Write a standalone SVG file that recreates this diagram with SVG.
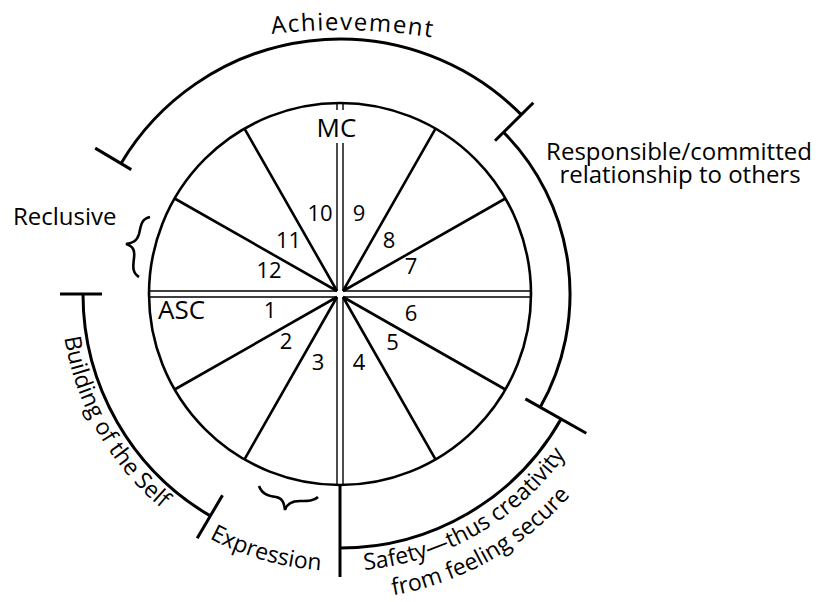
<svg xmlns="http://www.w3.org/2000/svg" width="827" height="602" viewBox="0 0 827 602">
<style>
.thick{fill:none;stroke:#000;stroke-width:2.6}
.arc{fill:none;stroke:#000;stroke-width:3}
.thin{fill:none;stroke:#000;stroke-width:1.4}
text{font-family:"Open Sans","Liberation Sans",sans-serif;fill:#000}
.num{font-size:22px;text-anchor:middle}
.lbl{font-size:24px}
.curv{font-size:23px}
.axis{font-size:26px}
</style>
<defs>
<path id="pAch" d="M 200,47.5 A 570 570 0 0 1 480,47.5"/>
<path id="pBuild" d="M 61.2,303.7 A 279 279 0 0 0 244.6,556.2"/>
<path id="pExpr" d="M 181.1,520.9 A 277 277 0 0 0 388.1,566.8"/>
<path id="pSafe1" d="M 330.3,570.8 A 277 277 0 0 0 600.3,388.7"/>
<path id="pSafe2" d="M 329.3,599.8 A 306 306 0 0 0 627.5,398.7"/>
</defs>
<rect width="827" height="602" fill="#fff"/>

<g id="wheel">
<circle class="thick" cx="340" cy="294" r="191"/>
<g id="axes" class="thin">
<path d="M 149,291 H 337 M 149,297 H 337 M 343,291 H 531 M 343,297 H 531"/>
<path d="M 337,103 V 110 M 343,103 V 110 M 337,143 V 291 M 343,143 V 291 M 337,297 V 485 M 343,297 V 485"/>
</g>
<g id="cusps" class="thick">
<path d="M 337,291 L 174.6,198.5 M 337,291 L 244.5,128.6"/>
<path d="M 343,291 L 435.5,128.6 M 343,291 L 505.4,198.5"/>
<path d="M 343,297 L 505.4,389.5 M 343,297 L 435.5,459.4"/>
<path d="M 337,297 L 244.5,459.4 M 337,297 L 174.6,389.5"/>
</g>
<text class="axis" x="336.5" y="137" text-anchor="middle">MC</text>
<text class="axis" x="158" y="319">ASC</text>
</g>

<g id="house-numbers" class="num">
<text class="num" x="270" y="318">1</text>
<text class="num" x="286" y="349">2</text>
<text class="num" x="318" y="370">3</text>
<text class="num" x="359" y="370">4</text>
<text class="num" x="392.5" y="350">5</text>
<text class="num" x="411" y="321">6</text>
<text class="num" x="411" y="274">7</text>
<text class="num" x="389" y="248">8</text>
<text class="num" x="359" y="221">9</text>
<text class="num" x="320" y="221">10</text>
<text class="num" x="288.5" y="248">11</text>
<text class="num" x="269" y="278">12</text>
</g>

<g id="achievement">
<path class="arc" d="M 121.0,163.4 A 255 255 0 0 1 521.2,114.6"/>
<path class="arc" d="M 131.3,169.6 L 95.2,148.1"/>
<text class="lbl" letter-spacing="1.5"><textPath href="#pAch" startOffset="73">Achievement</textPath></text>
</g>

<g id="responsible">
<path class="arc" d="M 495.0,140.7 L 533.3,102.7"/>
<path class="arc" d="M 503.5,132.2 A 230 230 0 0 1 540.2,407.3"/>
<text class="lbl" x="679" y="160" text-anchor="middle">Responsible/committed</text>
<text class="lbl" x="680" y="183" text-anchor="middle">relationship to others</text>
</g>

<g id="safety">
<path class="arc" d="M 525.4,398.9 L 586.3,433.3"/>
<path class="arc" d="M 561.1,419.1 A 254 254 0 0 1 340,548"/>
<path class="arc" d="M 340,485 L 340,577"/>
<text class="curv"><textPath href="#pSafe1" startOffset="34">Safety—thus creativity</textPath></text>
<text class="curv"><textPath href="#pSafe2" startOffset="64">from feeling secure</textPath></text>
</g>

<g id="building">
<path class="arc" d="M 60,294 L 102,294"/>
<path class="arc" d="M 83,294 A 257 257 0 0 0 210.3,515.9"/>
<path class="arc" d="M 222.5,495.2 L 197.2,538.3"/>
<text class="curv"><textPath href="#pBuild" startOffset="34">Building of the Self</textPath></text>
</g>

<g id="expression">
<path class="thick" d="M 259,486 C 262,494 268,496 276,497 C 282,498 284,502 285,510 C 287,503 292,501 300,501 C 308,501 314,501 318,497"/>
<text class="curv"><textPath href="#pExpr" startOffset="33">Expression</textPath></text>
</g>

<g id="reclusive">
<path class="thick" d="M 150,217 C 141,219 141,226 139,234 C 137,241 133,243 126,244 C 133,246 135,250 134,258 C 133,266 132,273 139,277"/>
<text class="lbl" x="13" y="225">Reclusive</text>
</g>
</svg>
